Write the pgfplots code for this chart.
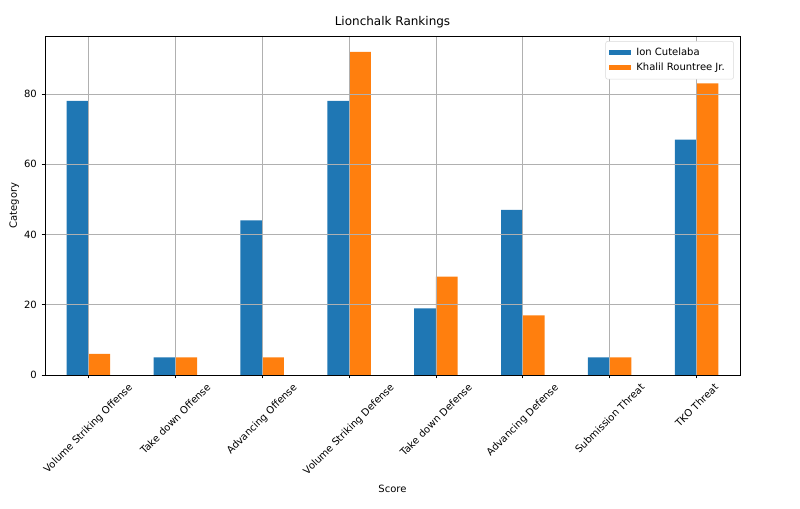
\documentclass[border=0pt]{standalone}
\usepackage{pgfplots}
\pgfplotsset{compat=1.18}
\usetikzlibrary{calc}
\usepackage{graphicx}
\usepackage{fontspec}
\setmainfont{DejaVu Sans}
\definecolor{mblue}{HTML}{1F77B4}
\definecolor{morange}{HTML}{FF7F0E}
\begin{document}
\begin{tikzpicture}[x=0.75pt,y=0.75pt]
\begin{axis}[
  scale only axis,
  width=521.25pt, height=254.25pt,
  xmin=-0.5, xmax=7.5,
  ymin=0, ymax=96.5,
  ytick={0,20,40,60,80},
  xtick={0,1,2,3,4,5,6,7},
  xticklabels={
    \rotatebox{45}{Volume Striking Offense},
    \rotatebox{45}{Take down Offense},
    \rotatebox{45}{Advancing Offense},
    \rotatebox{45}{Volume Striking Defense},
    \rotatebox{45}{Take down Defense},
    \rotatebox{45}{Advancing Defense},
    \rotatebox{45}{Submission Threat},
    \rotatebox{45}{TKO Threat}},
  xticklabel style={anchor=north, font=\fontsize{7.5}{9}\selectfont, inner sep=1pt, yshift=-2pt},
  yticklabel style={font=\fontsize{7.5}{9}\selectfont},
  /pgf/number format/assume math mode=true,
  tick style={black, line width=0.6pt},
  tick align=outside,
  major tick length=2.6pt,
  xtick pos=bottom, ytick pos=left,
  grid=major,
  major grid style={color=black!31, line width=0.6pt},
  axis on top,
  axis line style={line width=0.6pt},
  title={Lionchalk Rankings},
  title style={font=\fontsize{9}{11}\selectfont, yshift=-3.5pt},
  xlabel={Score}, ylabel={Category},
  label style={font=\fontsize{7.5}{9}\selectfont},
  ylabel style={yshift=-3pt},
  xlabel style={yshift=-1.5pt},
  ybar, bar width=0.25,
  legend style={at={(0.991,0.985)}, anchor=north east, font=\fontsize{7.5}{9}\selectfont,
     draw=black!15, rounded corners=1.5pt, row sep=-1pt, inner sep=2.5pt,
     nodes={inner xsep=4pt, inner ysep=2.5pt}},
  legend cell align=left,
  legend image code/.code={\fill[#1, draw=none, sharp corners] (0pt,-2pt) rectangle (16.5pt,2.2pt);},
]
\addplot[fill=mblue, draw=none, bar shift=-0.125] coordinates {(0,78) (1,5) (2,44) (3,78) (4,19) (5,47) (6,5) (7,67)};
\addplot[fill=morange, draw=none, bar shift=0.125] coordinates {(0,6) (1,5) (2,5) (3,92) (4,28) (5,17) (6,5) (7,83)};
\legend{Ion Cutelaba, Khalil Rountree Jr.}
\end{axis}
\path ($(current axis.south west)+(-45,-133)$) rectangle ($(current axis.north east)+(60,36)$);
\end{tikzpicture}
\end{document}
